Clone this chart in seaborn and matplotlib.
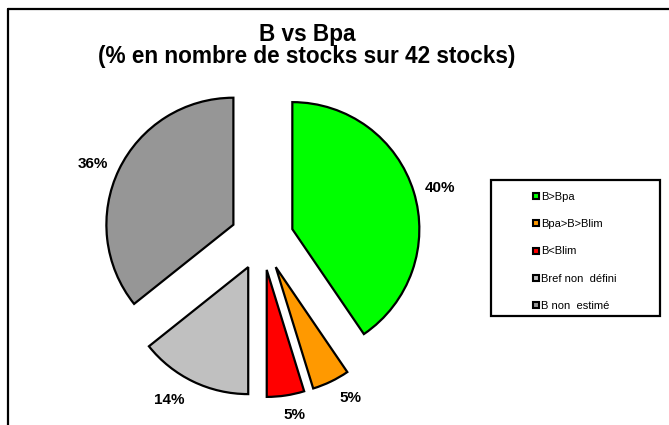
import matplotlib
matplotlib.use("Agg")
import numpy as np
import matplotlib.pyplot as plt
import seaborn as sns
from matplotlib.lines import Line2D
from matplotlib.patches import Rectangle

sns.set_style("white")
plt.rcParams['font.family'] = ['Liberation Sans', 'DejaVu Sans']
plt.rcParams['text.color'] = 'black'

# number of stocks in each class (42 in total)
categories = ["B>Bpa", "Bpa>B>Blim", "B<Blim", "Bref non  défini", "B non  estimé"]
counts = [17, 2, 2, 6, 15]
colors = ["#00FF00", "#FF9900", "#FF0000", "#C0C0C0", "#969696"]

W, H = 669, 425
fig = plt.figure(figsize=(W / 100, H / 100), dpi=100)
ax = fig.add_axes([0, 0, 1, 1])

wedges, texts, autotexts = ax.pie(
    counts, colors=colors, explode=[0.25] * len(counts),
    startangle=90, counterclock=False,
    autopct=lambda p: f"{p:.0f}%", pctdistance=1.2,
    wedgeprops=dict(edgecolor="black", linewidth=1.6),
    textprops=dict(fontsize=11, fontweight="bold", color="black"))

# Excel-like label placement: distance from exploded wedge centre and
# a small clockwise shift from the bisector (degrees)
lab_dist = [1.21, 1.19, 1.16, 1.22, 1.21]
lab_shift = [1.6, -3.9, -2.4, 5.0, -2.3]
for w, t, d, s in zip(wedges, autotexts, lab_dist, lab_shift):
    th = np.deg2rad((w.theta1 + w.theta2) / 2 - s)
    t.set_position((w.center[0] + d * np.cos(th), w.center[1] + d * np.sin(th)))

# pie centre at (262, 238) px, radius 127 px
cx, cy, r = 262, 238.5, 127
ax.set_xlim(-cx / r, (W - cx) / r)
ax.set_ylim(-(H - cy) / r, cy / r)
ax.set_aspect("auto")
ax.axis("off")

# va="baseline" on a two-line text uses the last line's baseline
fig.text(307 / W, 1 - 62.5 / H,
         "B vs Bpa\n(% en nombre de stocks sur 42 stocks)",
         ha="center", va="baseline", multialignment="center",
         linespacing=0.93, fontsize=16.3, fontweight="bold")

# chart border (top and left edges visible)
fig.add_artist(Line2D([8 / W, 1], [1 - 9 / H] * 2, color="black", lw=1.6,
                      transform=fig.transFigure))
fig.add_artist(Line2D([8 / W] * 2, [0, 1 - 9 / H], color="black", lw=1.6,
                      transform=fig.transFigure))

# legend
fig.add_artist(Rectangle((491 / W, 1 - 316 / H), 169 / W, 136 / H,
                         transform=fig.transFigure, fill=False,
                         edgecolor="black", lw=1.6))
handles = [Line2D([], [], marker="s", linestyle="none", markersize=5,
                  markerfacecolor=c, markeredgecolor="black",
                  markeredgewidth=1.5) for c in colors]
fig.legend(handles, categories, loc="upper left",
           bbox_to_anchor=(533 / W, 1 - 192 / H), frameon=False,
           fontsize=8, handlelength=0.55, handletextpad=0.2,
           labelspacing=1.55, borderpad=0, borderaxespad=0)

fig.savefig("out.png", dpi=100)
